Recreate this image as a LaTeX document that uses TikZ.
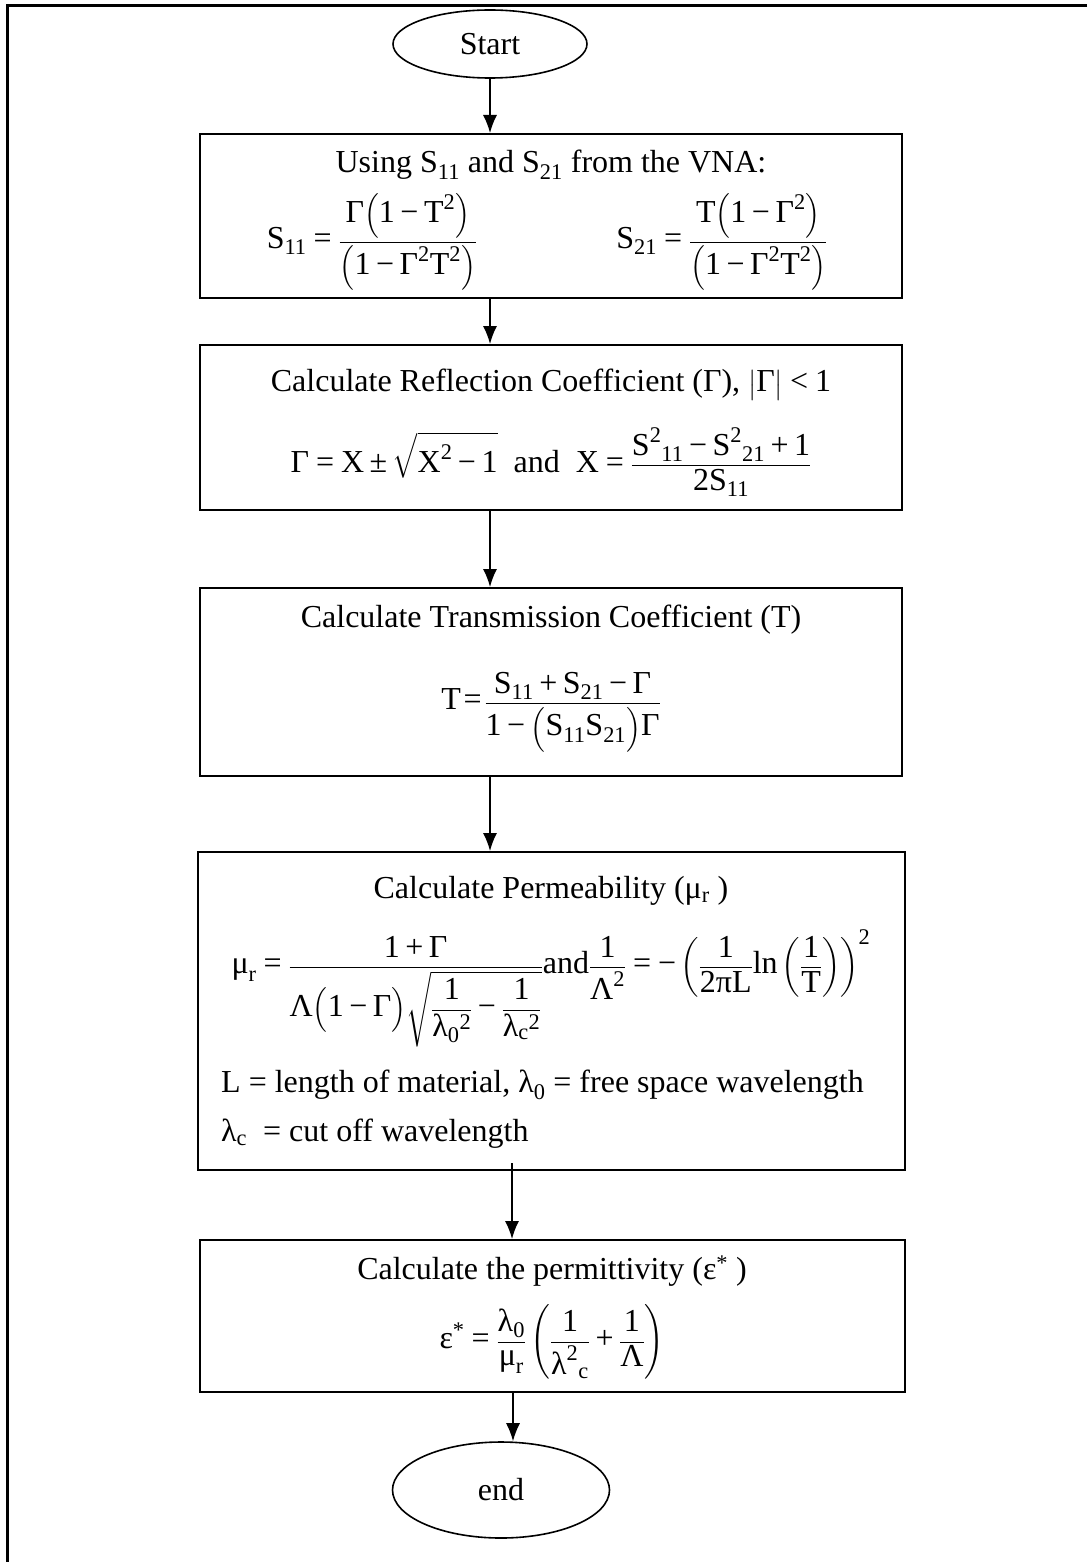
\documentclass[tikz,border=0pt]{standalone}
\usepackage{amsmath}
\usepackage{fontspec}
\setmainfont{Liberation Serif}
\usetikzlibrary{arrows.meta,shapes.geometric}
\newcommand\tx[1]{\text{#1}}
\newcommand\eqq{\mathrel{\tx{=}}}
\newcommand\mii{\mathbin{\tx{−}}}
\newcommand\pll{\mathbin{\tx{+}}}
\newcommand\plmi{\mathbin{\tx{±}}}
\newcommand\lss{\mathrel{\tx{<}}}
\begin{document}
\begin{tikzpicture}[x=1pt,y=-1pt,
  font=\fontsize{32}{38}\selectfont,
  stepbox/.style={draw,line width=2pt,inner sep=0pt},
  term/.style={draw,ellipse,line width=1.6pt,inner sep=0pt},
  txt/.style={inner sep=0pt},
  arr/.style={line width=1.4pt,-{Latex[length=18pt,width=14pt]}}]
\useasboundingbox (0,0) rectangle (1087,1562);
% outer frame (top and left only)
\draw[line width=3pt] (1087,6) -- (7,6) -- (7,1562);

\node[term,minimum width=194pt,minimum height=68pt] (start) at (490,44) {Start};
\node[term,minimum width=217pt,minimum height=96pt] (end) at (501,1490) {end};

\node[stepbox,minimum width=702pt,minimum height=164pt] (b1) at (551,216) {};
\node[stepbox,minimum width=702pt,minimum height=165pt] (b2) at (551,427.5) {};
\node[stepbox,minimum width=702pt,minimum height=188pt] (b3) at (551,682) {};
\node[stepbox,minimum width=707pt,minimum height=318pt] (b4) at (551.5,1011) {};
\node[stepbox,minimum width=705pt,minimum height=152pt] (b5) at (552.5,1316) {};

% box 1
\node[txt] (t1) at (551,165) {Using S\textsubscript{11} and S\textsubscript{21} from the VNA:};
\node[txt] (f1a) at (372,242) {$\displaystyle \tx{S}_{\tx{11}} \eqq \frac{\tx{Γ}\Bigl(\tx{1}\mii\tx{T}^{\tx{2}}\Bigr)}{\Bigl(\tx{1}\mii\tx{Γ}^{\tx{2}}\tx{T}^{\tx{2}}\Bigr)}$};
\node[txt] (f1b) at (722,242) {$\displaystyle \tx{S}_{\tx{21}} \eqq \frac{\tx{T}\Bigl(\tx{1}\mii\tx{Γ}^{\tx{2}}\Bigr)}{\Bigl(\tx{1}\mii\tx{Γ}^{\tx{2}}\tx{T}^{\tx{2}}\Bigr)}$};

% box 2
\node[txt] (t2) at (551,385) {Calculate Reflection Coefficient (Γ), $\left|\tx{Γ}\right| \lss \tx{1}$};
\node[txt] (f2) at (551,462) {$\displaystyle \tx{Γ} \eqq \tx{X} \plmi \sqrt{\tx{X}^{\tx{2}} \mii \tx{1}}\ \ \tx{and}\ \ \tx{X} \eqq \frac{\tx{S}^{\tx{2}}{}_{\tx{11}} \mii \tx{S}^{\tx{2}}{}_{\tx{21}} \pll \tx{1}}{\tx{2S}_{\tx{11}}}$};

% box 3
\node[txt] (t3) at (551,620) {Calculate Transmission Coefficient (T)};
\node[txt] (f3) at (551,712) {$\displaystyle \tx{T}\!\eqq\!\frac{\tx{S}_{\tx{11}} \pll \tx{S}_{\tx{21}} \mii \tx{Γ}}{\tx{1}\mii\Bigl(\tx{S}_{\tx{11}}\tx{S}_{\tx{21}}\Bigr)\tx{Γ}}$};

% box 4
\node[txt] (t4) at (551,891) {Calculate Permeability (μ\textsubscript{r} )};
\node[txt] (f4) at (551,988) {$\displaystyle \tx{μ}_{\tx{r}} \eqq \frac{\tx{1}\pll\tx{Γ}}{\tx{Λ}\Bigl(\tx{1}\mii\tx{Γ}\Bigr)\sqrt{\dfrac{\tx{1}}{\tx{λ}_{\tx{0}}{}^{\tx{2}}} \mii \dfrac{\tx{1}}{\tx{λ}_{\tx{c}}{}^{\tx{2}}}}}\tx{and}\frac{\tx{1}}{\tx{Λ}^{\tx{2}}} \eqq \mii\left(\frac{\tx{1}}{\tx{2πL}}\tx{ln}\left(\frac{\tx{1}}{\tx{T}}\right)\right)^{\tx{2}}$};
\node[txt,anchor=west] (l4a) at (221,1085) {L = length of material, λ\textsubscript{0} = free space wavelength};
\node[txt,anchor=west] (l4b) at (221,1134) {λ\textsubscript{c} \ = cut off wavelength};

% box 5
\node[txt] (t5) at (552,1271) {Calculate the permittivity (ε\textsuperscript{*} )};
\node[txt] (f5) at (552,1342) {$\displaystyle \tx{ε}^{\tx{*}} \eqq \frac{\tx{λ}_{\tx{0}}}{\tx{μ}_{\tx{r}}}\left(\frac{\tx{1}}{\tx{λ}^{\tx{2}}{}_{\tx{c}}} \pll \frac{\tx{1}}{\tx{Λ}}\right)$};

% connectors
\coordinate (a4) at (512,1163);
\coordinate (a5) at (513,1392);
\draw[arr] (start.south) -- (start.south |- b1.north);
\draw[arr] (start.south |- b1.south) -- (start.south |- b2.north);
\draw[arr] (start.south |- b2.south) -- (start.south |- b3.north);
\draw[arr] (start.south |- b3.south) -- (start.south |- b4.north);
\draw[arr] (a4) -- (a4 |- b5.north);
\draw[arr] (a5) -- (a5 |- end.north);
\end{tikzpicture}
\end{document}
